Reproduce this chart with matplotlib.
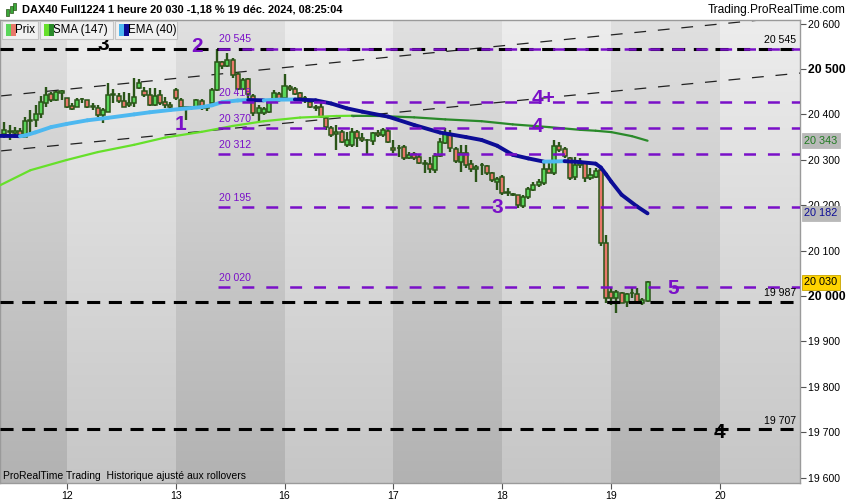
import numpy as np
import matplotlib
matplotlib.use("Agg")
import matplotlib.pyplot as plt
from matplotlib.patches import Rectangle
from matplotlib.collections import LineCollection

plt.rcParams['font.family'] = ['Liberation Sans', 'DejaVu Sans']
plt.rcParams['lines.scale_dashes'] = False

# ---------------- data ----------------
first_bar = -12   # bar index of the first visible hourly candle (day 12 first bar = 0)
opens = [20357, 20364, 20360, 20364, 20351, 20386, 20388, 20401, 20425, 20445, 20432, 20448,
         20436, 20418, 20417, 20433, 20432, 20417, 20414, 20399, 20405, 20443, 20441, 20430,
         20420, 20424, 20458, 20452, 20443, 20421, 20443, 20428, 20421,
         20454, 20432, 20417, 20414, 20415, 20430, 20413, 20424, 20454, 20516, 20507, 20520,
         20490, 20457, 20477, 20440, 20403, 20404, 20406, 20428, 20445,
         20435, 20461, 20457, 20448, 20437, 20428, 20417, 20417, 20391, 20369, 20357, 20362,
         20333, 20333, 20362, 20349, 20344, 20342, 20360, 20355, 20364,
         20326, 20326, 20329, 20303, 20313, 20307, 20294, 20291, 20278, 20308, 20336, 20355,
         20323, 20296, 20316, 20291, 20280, 20288, 20286, 20270, 20252,
         20261, 20228, 20224, 20222, 20198, 20217, 20233, 20244, 20248, 20279, 20272, 20330,
         20324, 20303, 20263, 20289, 20292, 20259, 20263, 20278, 20117,
         20009, 19996, 20007, 19987, 20006, 20004, 19985, 19990]
highs = [20383, 20377, 20372, 20370, 20395, 20410, 20421, 20440, 20460, 20449, 20452, 20454,
         20436, 20425, 20436, 20436, 20432, 20425, 20421, 20414, 20469, 20456, 20447, 20450,
         20447, 20480, 20478, 20461, 20458, 20458, 20454, 20439, 20428,
         20458, 20436, 20418, 20419, 20434, 20433, 20420, 20458, 20543, 20518, 20536, 20524,
         20494, 20481, 20481, 20446, 20421, 20416, 20432, 20454, 20450,
         20490, 20465, 20461, 20450, 20441, 20432, 20421, 20424, 20395, 20374, 20377, 20366,
         20362, 20370, 20366, 20358, 20346, 20362, 20366, 20370, 20368,
         20344, 20333, 20333, 20318, 20318, 20311, 20300, 20307, 20314, 20347, 20369, 20366,
         20329, 20333, 20333, 20300, 20289, 20292, 20289, 20274, 20263,
         20267, 20237, 20226, 20222, 20222, 20240, 20250, 20257, 20300, 20300, 20344, 20340,
         20328, 20307, 20307, 20305, 20296, 20281, 20281, 20281, 20134,
         20018, 20013, 20009, 20007, 20018, 20018, 19996, 20032]
lows = [20348, 20344, 20348, 20350, 20351, 20359, 20372, 20392, 20416, 20427, 20430, 20432,
        20414, 20410, 20416, 20425, 20414, 20410, 20394, 20381, 20405, 20425, 20425, 20417,
        20416, 20417, 20455, 20439, 20419, 20419, 20421, 20414, 20410,
        20432, 20413, 20388, 20410, 20412, 20410, 20408, 20419, 20452, 20501, 20505, 20480,
        20454, 20454, 20435, 20397, 20384, 20399, 20402, 20424, 20428,
        20432, 20452, 20443, 20430, 20426, 20413, 20408, 20391, 20366, 20350, 20322, 20336,
        20329, 20329, 20329, 20340, 20311, 20333, 20350, 20350, 20337,
        20315, 20307, 20300, 20301, 20300, 20291, 20270, 20270, 20270, 20307, 20335, 20318,
        20294, 20274, 20283, 20274, 20252, 20267, 20267, 20252, 20233,
        20222, 20220, 20220, 20194, 20193, 20213, 20231, 20240, 20244, 20270, 20267, 20318,
        20305, 20255, 20255, 20283, 20250, 20255, 20259, 20110, 19984,
        19980, 19963, 19985, 19976, 19996, 19985, 19980, 19987]
closes = [20366, 20362, 20364, 20355, 20385, 20388, 20401, 20427, 20443, 20432, 20450, 20452,
          20417, 20411, 20432, 20434, 20416, 20419, 20399, 20410, 20443, 20445, 20430, 20417,
          20424, 20439, 20470, 20443, 20421, 20441, 20425, 20421, 20416,
          20435, 20417, 20414, 20417, 20432, 20413, 20416, 20454, 20516, 20507, 20520, 20487,
          20457, 20476, 20446, 20403, 20413, 20411, 20428, 20447, 20432,
          20463, 20455, 20446, 20437, 20436, 20417, 20414, 20395, 20373, 20354, 20362, 20340,
          20344, 20362, 20347, 20344, 20343, 20358, 20355, 20366, 20340,
          20322, 20325, 20303, 20311, 20305, 20294, 20291, 20279, 20308, 20339, 20358, 20325,
          20298, 20314, 20289, 20280, 20285, 20289, 20270, 20256, 20257,
          20226, 20226, 20222, 20200, 20219, 20235, 20244, 20252, 20279, 20272, 20330, 20322,
          20309, 20259, 20289, 20292, 20259, 20267, 20276, 20116, 19995,
          19995, 20009, 19985, 20004, 20007, 19987, 19991, 20030]

day_ticks = [0, 21, 42, 63, 84, 105, 126]
day_labels = ['12', '13', '16', '17', '18', '19', '20']

ema_idx = [-13, -10, -9, -8, -6, -3, 0, 4, 8, 13, 16, 20, 23, 26, 28, 30, 33, 35, 38, 41, 44,
           48, 51, 54, 57, 62, 67, 72, 77, 80, 83, 86, 89, 92, 94, 96, 99, 102, 103, 104, 105,
           107, 110, 112]
ema_val = [20352.6, 20352.4, 20352.0, 20353.5, 20360.5, 20372, 20379, 20387, 20392.5, 20400,
           20404.6, 20409.7, 20413, 20416, 20420, 20427, 20430.7, 20431.7, 20431.0, 20432.5,
           20432.8, 20431, 20424, 20413.4, 20406, 20395, 20376.6, 20360, 20350, 20343.6, 20331,
           20311, 20303, 20296, 20296.3, 20297, 20295, 20291.5, 20283, 20268, 20252, 20223,
           20197, 20182]

sma_idx = [-13, -7, 0, 6, 13, 19, 26, 32, 38, 45, 52, 55, 60, 67, 73, 80, 86, 93, 99, 102,
           105, 109, 112]
sma_val = [20243, 20277, 20299.6, 20317, 20333, 20349, 20361.5, 20374.5, 20385, 20393,
           20396.5, 20397, 20396.5, 20393.5, 20389, 20385, 20378, 20372, 20366, 20364, 20361,
           20352, 20342]

y_ticks = [19600, 19700, 19800, 19900, 20000, 20100, 20200, 20300, 20400, 20500, 20600]
y_tick_labels = ['19 600', '19 700', '19 800', '19 900', '20 000', '20 100', '20 200',
                 '20 300', '20 400', '20 500', '20 600']
bold_ticks = [20000, 20500]

purple_levels = [20545, 20427, 20370, 20312, 20195, 20020]
purple_labels = ['20 545', '20 418', '20 370', '20 312', '20 195', '20 020']
black_levels = [20545, 19987, 19707]
black_labels = ['20 545', '19 987', '19 707']

channel_x = [-12.86, 141.4]
channel_upper = [20440.5, 20616.7]
channel_lower = [20319.4, 20491.0]

sma_last_label = '20 343'
ema_last_label = '20 182'
close_label = '20 030'

# ---------------- figure ----------------
W, H = 850, 500
fig = plt.figure(figsize=(8.5, 5), dpi=100)
fig.patch.set_facecolor('white')
ax = fig.add_axes([0, 17 / H, 800 / W, 463 / H])
ymin, ymax = 19588.1, 20607.9
xmin, xmax = -12.86, 141.4

def fx(px):
    return px / W

def fy(py):
    return 1 - py / H

# day bands with vertical gradient
bounds = [xmin] + day_ticks + [xmax]
light_top, light_bot = np.array([237, 237, 237]), np.array([198, 198, 198])
dark_top, dark_bot = np.array([224, 224, 224]), np.array([178, 178, 178])
t = np.linspace(0, 1, 128)[:, None]
for k in range(len(bounds) - 1):
    top, bot = (dark_top, dark_bot) if k % 2 == 0 else (light_top, light_bot)
    col = (top * (1 - t) + bot * t) / 255.0
    img = col[:, None, :]
    ax.imshow(img, extent=(bounds[k], bounds[k + 1], ymin, ymax), aspect='auto',
              origin='upper', interpolation='bilinear', zorder=0)

# channel trend lines
for yv in (channel_upper, channel_lower):
    ax.plot(channel_x, yv, color='#222222', lw=0.9, dashes=(8.5, 8.5), zorder=2)

# candles
x = np.arange(first_bar, first_bar + len(opens))
O, Hh, L, C = map(np.array, (opens, highs, lows, closes))
wick = '#2a5518'
ax.vlines(x, L, Hh, color=wick, lw=1.7, zorder=3)
up = C >= O
body_b = np.minimum(O, C)
body_h = np.maximum(np.abs(C - O), 1.0)
ax.bar(x, body_h, bottom=body_b, width=0.78,
       color=np.where(up, '#5ad65a', '#e8786a'), edgecolor=wick, linewidth=1.1, zorder=4)

# moving averages coloured by slope
def ma_line(idx, val, up_col, dn_col, lw, z):
    pts = np.column_stack([idx, val])
    segs = np.stack([pts[:-1], pts[1:]], axis=1)
    cols = [up_col if b > a else dn_col for a, b in zip(val[:-1], val[1:])]
    lc = LineCollection(segs, colors=cols, linewidths=lw, capstyle='round',
                        joinstyle='round', zorder=z)
    ax.add_collection(lc)

ma_line(sma_idx, sma_val, '#66e02a', '#2a8a2a', 1.6, 5)
ma_line(ema_idx, ema_val, '#4db8f0', '#0c0c96', 2.8, 6)

# horizontal levels
for lv in black_levels:
    ax.plot([xmin, xmax], [lv, lv], color='black', lw=2.2, dashes=(9.4, 6.2), zorder=7)
purple = '#7a10c8'
for lv in purple_levels:
    ax.plot([29.2, xmax], [lv, lv], color=purple, lw=1.8, dashes=(8.6, 8.6), zorder=7)

for lv, lab in zip(purple_levels, purple_labels):
    ax.annotate(lab, (29.4, lv), xytext=(0, 3), textcoords='offset points',
                ha='left', va='bottom', fontsize=7.6, color=purple, zorder=9)
for lv, lab in zip(black_levels, black_labels):
    ax.annotate(lab, (1.0, lv), xycoords=('axes fraction', 'data'), xytext=(-3, 2.5),
                textcoords='offset points', ha='right', va='bottom', fontsize=7.6,
                color='black', zorder=9)

ax.set_xlim(xmin, xmax)
ax.set_ylim(ymin, ymax)

# axes styling
for s in ax.spines.values():
    s.set_color('#9a9a9a')
    s.set_linewidth(1)
ax.yaxis.tick_right()
ax.set_yticks(y_ticks)
ax.set_yticklabels(y_tick_labels)
ax.tick_params(axis='y', direction='out', length=4, width=0.8, color='#555555',
               labelsize=7.6, pad=2)
for tv, tl in zip(y_ticks, ax.get_yticklabels()):
    if tv in bold_ticks:
        tl.set_fontweight('bold')
        tl.set_fontsize(8.8)
ax.set_xticks(day_ticks)
ax.set_xticklabels(day_labels)
ax.tick_params(axis='x', direction='out', length=4, width=0.8, color='#555555',
               labelsize=7.6, pad=1.5)

# value boxes on the right axis
def value_box(val, text, fg, bg, ec):
    ax.annotate(text, xy=(1.0, val), xycoords=('axes fraction', 'data'), xytext=(3.2, 0),
                textcoords='offset points', ha='left', va='center', fontsize=7.8, color=fg,
                bbox=dict(boxstyle='square,pad=0.22', fc=bg, ec=ec, lw=0.6),
                annotation_clip=False, zorder=12)

value_box(sma_val[-1], sma_last_label, '#1f7a1f', '#b9b9b9', '#b9b9b9')
value_box(ema_val[-1], ema_last_label, '#0c0c96', '#b9b9b9', '#b9b9b9')
value_box(closes[-1], close_label, 'black', '#ffd400', '#c9a400')

# wave labels (pixel positions)
def ptext(px, py, s, **kw):
    fig.text(fx(px), fy(py), s, ha='center', va='center', **kw)

for (px, py, s) in [(181, 125, '1'), (197, 46, '2'), (497, 208, '3'), (537, 127, '4'),
                    (544, 99, '4+'), (673, 289, '5')]:
    ptext(px, py, s, fontsize=15, fontweight='bold', color=purple, zorder=5)
ptext(103, 45, '3', fontsize=15, fontweight='bold', color='black', zorder=5)
ptext(719, 432, '4', fontsize=15, fontweight='bold', color='black', zorder=5)

# header
fig.add_artist(Rectangle((0, fy(19)), 1, 19 / H, transform=fig.transFigure,
                         fc='white', ec='none', zorder=20))
for (cx, y0, y1, c) in [(7, 9, 16, '#3aa83a'), (11, 6, 13, '#3aa83a'), (15, 3, 10, '#3aa83a')]:
    fig.add_artist(Rectangle((fx(cx - 1.5), fy(y1)), 3 / W, (y1 - y0) / H,
                             transform=fig.transFigure, fc=c, ec='#2a5518', lw=0.5, zorder=21))
fig.text(fx(22), fy(10), 'DAX40 Full1224 1 heure 20 030 -1,18 % 19 déc. 2024, 08:25:04',
         fontsize=7.9, fontweight='bold', va='center', ha='left', color='black', zorder=22)
fig.text(fx(846), fy(10), 'Trading.ProRealTime.com', fontsize=8.6, va='center', ha='right',
         color='black', zorder=22)

# legend boxes
def legend_box(x0, x1, c1, c2, label):
    fig.add_artist(Rectangle((fx(x0), fy(38.5)), (x1 - x0) / W, 17 / H,
                             transform=fig.transFigure, fc='#f1f1f1', ec='#c4c4c4',
                             lw=0.8, zorder=20))
    fig.text(fx(x0 + 13), fy(30), label, fontsize=8.3, va='center', ha='left',
             color='black', zorder=21)
    fig.add_artist(Rectangle((fx(x0 + 4), fy(36)), 5 / W, 12 / H,
                             transform=fig.transFigure, fc=c1, ec='none', zorder=22))
    fig.add_artist(Rectangle((fx(x0 + 9), fy(36)), 5 / W, 12 / H,
                             transform=fig.transFigure, fc=c2, ec='none', zorder=22))

legend_box(2, 38, '#5ad65a', '#e8786a', 'Prix')
legend_box(40, 113, '#66e02a', '#2a8a2a', 'SMA (147)')
legend_box(115, 177, '#4db8f0', '#0c0c96', 'EMA (40)')

# footer
fig.text(fx(3), fy(476), 'ProRealTime Trading  Historique ajusté aux rollovers',
         fontsize=7.5, va='center', ha='left', color='black', zorder=5)

fig.savefig('out.png', dpi=100)
